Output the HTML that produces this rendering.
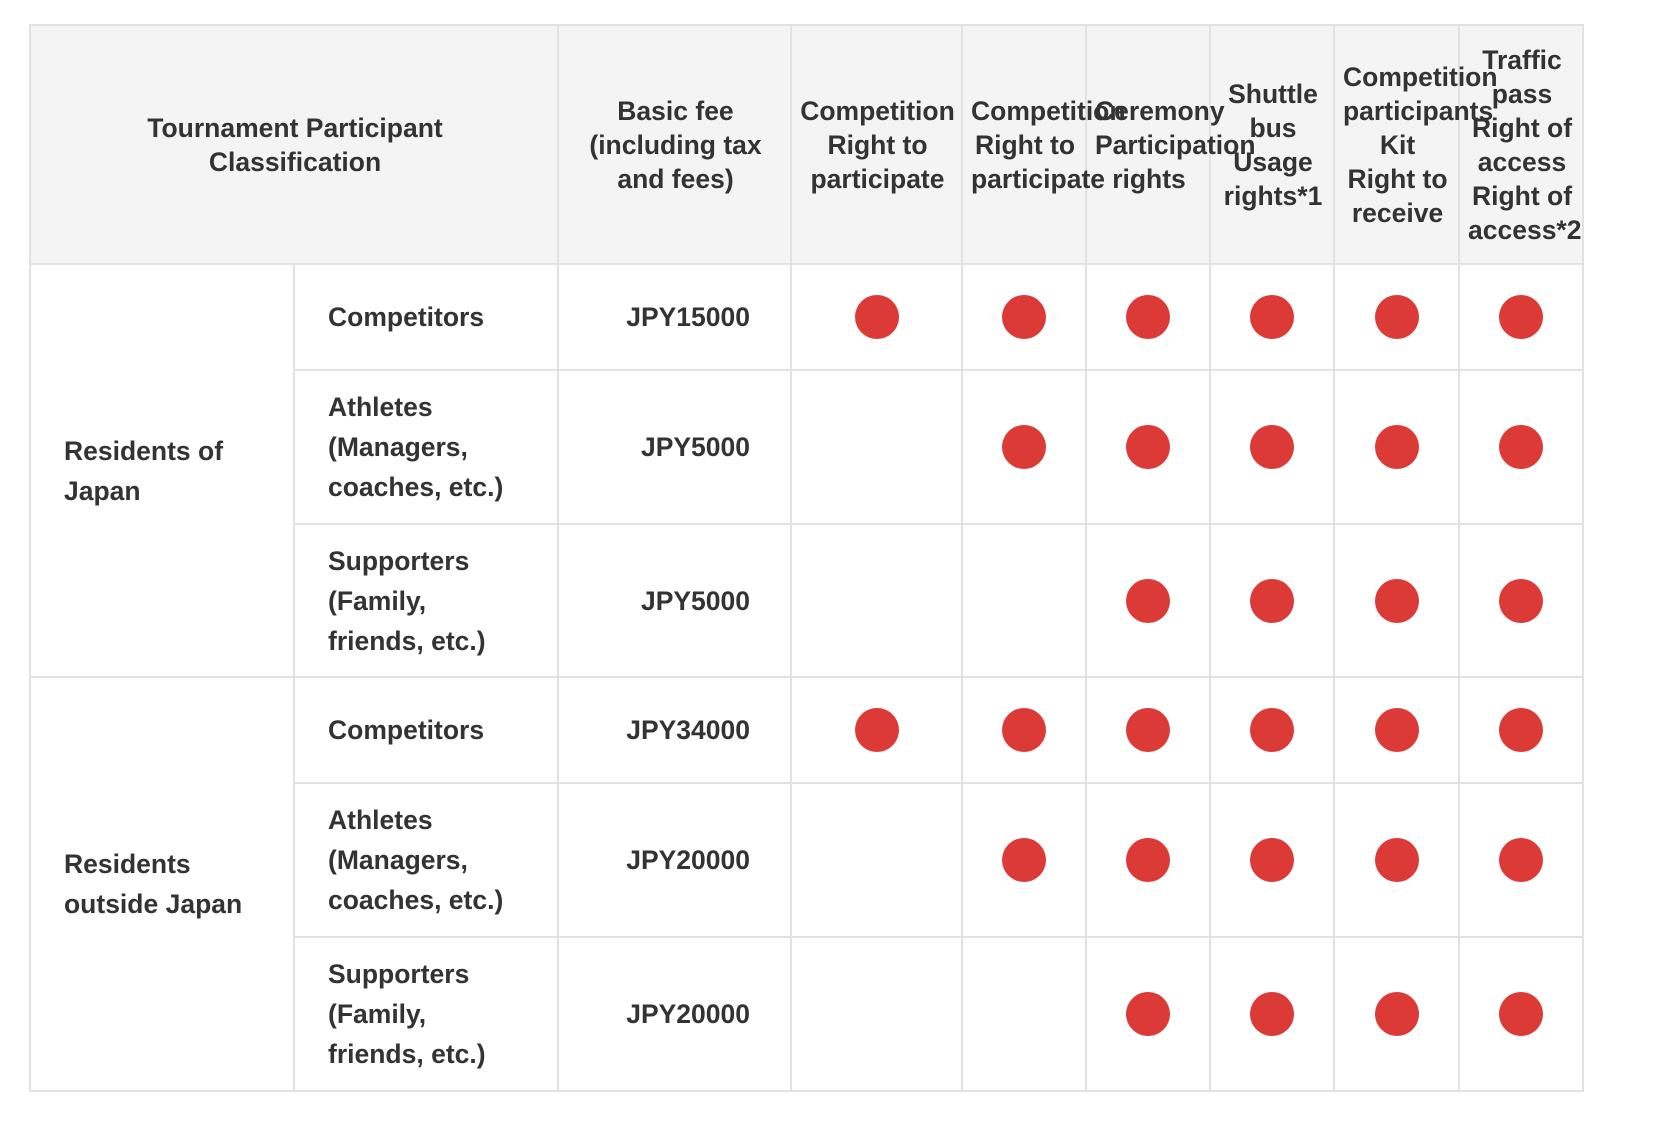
<!DOCTYPE html>
<html><head><meta charset="utf-8"><style>
html,body{margin:0;padding:0;background:#fff;width:1664px;height:1130px;overflow:hidden}
body{font-family:"Liberation Sans",sans-serif;color:#333}
table{position:absolute;left:29px;top:24px;border-collapse:collapse;table-layout:fixed;width:1553px}
td,th{border:2px solid #e2e2e2;padding:0;font-size:26.5px;font-weight:bold;letter-spacing:0;overflow:visible}
th{background:#f4f4f4;line-height:34px;text-align:center;vertical-align:middle;white-space:nowrap}
th div{margin:0 8px;text-align:center;white-space:nowrap;overflow:visible}
td{line-height:40px;vertical-align:middle}
.l{padding-left:33px}
.f{text-align:right;padding-right:40px}
.d{text-align:center}
.d span{display:inline-block;width:44px;height:44px;border-radius:50%;background:#dc3a37;vertical-align:middle}
</style></head><body>
<table>
<colgroup><col style="width:264px"><col style="width:264px"><col style="width:233px"><col style="width:171px"><col style="width:124px"><col style="width:124px"><col style="width:124px"><col style="width:125px"><col style="width:124px"></colgroup>
<tr style="height:239px">
<th colspan="2"><div style="width:512px">Tournament Participant<br>Classification</div></th>
<th><div style="width:217px">Basic fee<br>(including tax<br>and fees)</div></th>
<th><div style="width:155px">Competition<br>Right to<br>participate</div></th>
<th><div style="width:108px">Competition<br>Right to<br>participate</div></th>
<th><div style="width:108px">Ceremony<br>Participation<br>rights</div></th>
<th><div style="width:108px">Shuttle<br>bus<br>Usage<br>rights*1</div></th>
<th><div style="width:109px">Competition<br>participants<br>Kit<br>Right to<br>receive</div></th>
<th><div style="width:108px">Traffic<br>pass<br>Right of<br>access<br>Right of<br>access*2</div></th>
</tr>
<tr style="height:106px"><td rowspan="3" class="l">Residents of<br>Japan</td><td class="l">Competitors</td><td class="f">JPY15000</td><td class="d"><span></span></td><td class="d"><span></span></td><td class="d"><span></span></td><td class="d"><span></span></td><td class="d"><span></span></td><td class="d"><span></span></td></tr>
<tr style="height:154px"><td class="l">Athletes<br>(Managers,<br>coaches, etc.)</td><td class="f">JPY5000</td><td></td><td class="d"><span></span></td><td class="d"><span></span></td><td class="d"><span></span></td><td class="d"><span></span></td><td class="d"><span></span></td></tr>
<tr style="height:153px"><td class="l">Supporters<br>(Family,<br>friends, etc.)</td><td class="f">JPY5000</td><td></td><td></td><td class="d"><span></span></td><td class="d"><span></span></td><td class="d"><span></span></td><td class="d"><span></span></td></tr>
<tr style="height:106px"><td rowspan="3" class="l">Residents<br>outside Japan</td><td class="l">Competitors</td><td class="f">JPY34000</td><td class="d"><span></span></td><td class="d"><span></span></td><td class="d"><span></span></td><td class="d"><span></span></td><td class="d"><span></span></td><td class="d"><span></span></td></tr>
<tr style="height:154px"><td class="l">Athletes<br>(Managers,<br>coaches, etc.)</td><td class="f">JPY20000</td><td></td><td class="d"><span></span></td><td class="d"><span></span></td><td class="d"><span></span></td><td class="d"><span></span></td><td class="d"><span></span></td></tr>
<tr style="height:154px"><td class="l">Supporters<br>(Family,<br>friends, etc.)</td><td class="f">JPY20000</td><td></td><td></td><td class="d"><span></span></td><td class="d"><span></span></td><td class="d"><span></span></td><td class="d"><span></span></td></tr>
</table>
</body></html>
